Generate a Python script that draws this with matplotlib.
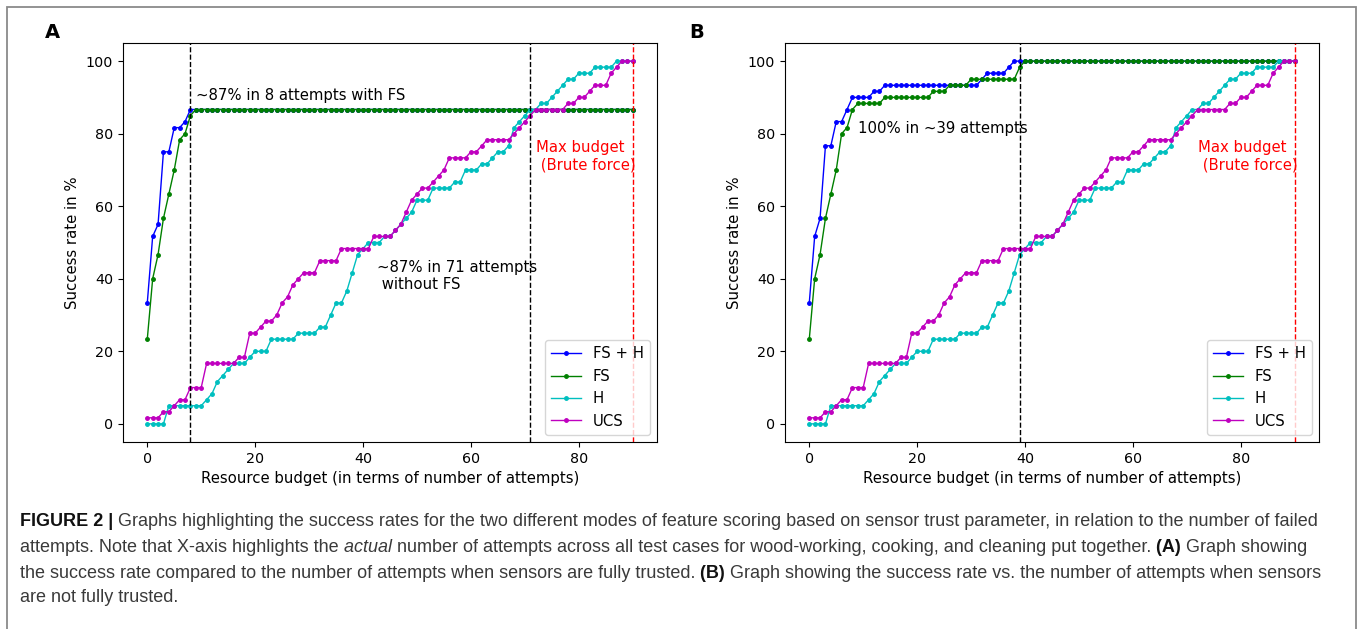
import numpy as np
import matplotlib
matplotlib.use("Agg")
import matplotlib.pyplot as plt
from matplotlib.patches import Rectangle

# number of attempts (x axis)
budget = np.arange(91)
n_cases = 60  # successes are counted out of 60 test cases

# --- panel A: sensors fully trusted (solved cases, out of 60) ---
fs_h_a = [20, 31, 33, 45, 45, 49, 49, 50, 52, 52,
          52, 52, 52, 52, 52, 52, 52, 52, 52, 52,
          52, 52, 52, 52, 52, 52, 52, 52, 52, 52,
          52, 52, 52, 52, 52, 52, 52, 52, 52, 52,
          52, 52, 52, 52, 52, 52, 52, 52, 52, 52,
          52, 52, 52, 52, 52, 52, 52, 52, 52, 52,
          52, 52, 52, 52, 52, 52, 52, 52, 52, 52,
          52, 52, 52, 52, 52, 52, 52, 52, 52, 52,
          52, 52, 52, 52, 52, 52, 52, 52, 52, 52,
          52]
fs_a = [14, 24, 28, 34, 38, 42, 47, 48, 51, 52,
        52, 52, 52, 52, 52, 52, 52, 52, 52, 52,
        52, 52, 52, 52, 52, 52, 52, 52, 52, 52,
        52, 52, 52, 52, 52, 52, 52, 52, 52, 52,
        52, 52, 52, 52, 52, 52, 52, 52, 52, 52,
        52, 52, 52, 52, 52, 52, 52, 52, 52, 52,
        52, 52, 52, 52, 52, 52, 52, 52, 52, 52,
        52, 52, 52, 52, 52, 52, 52, 52, 52, 52,
        52, 52, 52, 52, 52, 52, 52, 52, 52, 52,
        52]

# --- panel B: sensors not fully trusted ---
fs_h_b = [20, 31, 34, 46, 46, 50, 50, 52, 54, 54,
          54, 54, 55, 55, 56, 56, 56, 56, 56, 56,
          56, 56, 56, 56, 56, 56, 56, 56, 56, 56,
          56, 56, 57, 58, 58, 58, 58, 59, 60, 60,
          60, 60, 60, 60, 60, 60, 60, 60, 60, 60,
          60, 60, 60, 60, 60, 60, 60, 60, 60, 60,
          60, 60, 60, 60, 60, 60, 60, 60, 60, 60,
          60, 60, 60, 60, 60, 60, 60, 60, 60, 60,
          60, 60, 60, 60, 60, 60, 60, 60, 60, 60,
          60]
fs_b = [14, 24, 28, 34, 38, 42, 48, 49, 52, 53,
        53, 53, 53, 53, 54, 54, 54, 54, 54, 54,
        54, 54, 54, 55, 55, 55, 56, 56, 56, 56,
        57, 57, 57, 57, 57, 57, 57, 57, 57, 59,
        60, 60, 60, 60, 60, 60, 60, 60, 60, 60,
        60, 60, 60, 60, 60, 60, 60, 60, 60, 60,
        60, 60, 60, 60, 60, 60, 60, 60, 60, 60,
        60, 60, 60, 60, 60, 60, 60, 60, 60, 60,
        60, 60, 60, 60, 60, 60, 60, 60, 60, 60,
        60]

# H and UCS do not depend on sensor trust, same in both panels
h_all = [0, 0, 0, 0, 3, 3, 3, 3, 3, 3,
         3, 4, 5, 7, 8, 9, 10, 10, 10, 11,
         12, 12, 12, 14, 14, 14, 14, 14, 15, 15,
         15, 15, 16, 16, 18, 20, 20, 22, 25, 28,
         29, 30, 30, 30, 31, 31, 32, 33, 34, 35,
         37, 37, 37, 39, 39, 39, 39, 40, 40, 42,
         42, 42, 43, 43, 44, 45, 45, 46, 49, 50,
         51, 52, 52, 53, 53, 54, 55, 56, 57, 57,
         58, 58, 58, 59, 59, 59, 59, 60, 60, 60,
         60]
ucs_all = [1, 1, 1, 2, 2, 3, 4, 4, 6, 6,
           6, 10, 10, 10, 10, 10, 10, 11, 11, 15,
           15, 16, 17, 17, 18, 20, 21, 23, 24, 25,
           25, 25, 27, 27, 27, 27, 29, 29, 29, 29,
           29, 29, 31, 31, 31, 31, 32, 33, 35, 37,
           38, 39, 39, 40, 41, 42, 44, 44, 44, 44,
           45, 45, 46, 47, 47, 47, 47, 47, 48, 49,
           50, 51, 52, 52, 52, 52, 52, 52, 53, 53,
           54, 54, 55, 56, 56, 56, 58, 59, 60, 60,
           60]

series_names = ["FS + H", "FS", "H", "UCS"]
series_colors = ["b", "g", "c", "m"]


def pct(counts):
    return 100.0 * np.array(counts) / n_cases


W, H = 1362, 629
fig = plt.figure(figsize=(W / 100, H / 100), dpi=100)
fs = 10.7  # plot text size
plt.rcParams["font.size"] = fs

axA = fig.add_axes([123 / W, 1 - 442 / H, 534 / W, 399 / H])
axB = fig.add_axes([785 / W, 1 - 442 / H, 534 / W, 399 / H])

panels = [
    (axA, [fs_h_a, fs_a, h_all, ucs_all], [8, 71]),
    (axB, [fs_h_b, fs_b, h_all, ucs_all], [39]),
]
for ax, data, marks in panels:
    for vals, name, col in zip(data, series_names, series_colors):
        ax.plot(budget, pct(vals), color=col, marker=".", markersize=5,
                linewidth=1, label=name)
    for m in marks:
        ax.axvline(m, color="k", linestyle="--", linewidth=1)
    ax.axvline(90, color="r", linestyle="--", linewidth=1)
    ax.set_xticks([0, 20, 40, 60, 80])
    ax.set_yticks([0, 20, 40, 60, 80, 100])
    ax.tick_params(labelsize=10.3)
    ax.set_xlabel("Resource budget (in terms of number of attempts)", fontsize=fs)
    ax.set_ylabel("Success rate in %", fontsize=fs)
    ax.legend(loc="lower right", fontsize=fs)
    ax.text(72, 73.7, "Max budget\n (Brute force)", color="r", fontsize=fs,
            ha="left", va="center")

axA.text(9, 90.5, "~87% in 8 attempts with FS", fontsize=fs, ha="left", va="center")
axA.text(42.5, 40.7, "~87% in 71 attempts\n without FS", fontsize=fs,
         ha="left", va="center")
axB.text(9, 81.3, "100% in ~39 attempts", fontsize=fs, ha="left", va="center")

fig.text(52 / W, 1 - 32 / H, "A", fontsize=14, fontweight="bold", ha="center", va="center")
fig.text(697 / W, 1 - 32 / H, "B", fontsize=14, fontweight="bold", ha="center", va="center")

# outer frame of the figure box
fig.add_artist(Rectangle((7 / W, -0.05), (1356 - 7) / W, 1.05 - 7 / H,
                         transform=fig.transFigure, fill=False,
                         edgecolor="#8a8a8a", linewidth=1.3, clip_on=False))

# caption, drawn run by run so bold/italic pieces sit inline
cap_font = "Liberation Sans"
cap_size = 13.0

caption = [
    [("FIGURE 2 |", "bold", "normal"),
     (" Graphs highlighting the success rates for the two different modes of feature scoring "
      "based on sensor trust parameter, in relation to the number of failed", "normal", "normal")],
    [("attempts. Note that X-axis highlights the", "normal", "normal"),
     (" actual", "normal", "italic"),
     (" number of attempts across all test cases for wood-working, cooking, and cleaning put "
      "together.", "normal", "normal"),
     (" (A)", "bold", "normal"),
     (" Graph showing", "normal", "normal")],
    [("the success rate compared to the number of attempts when sensors are fully trusted.",
      "normal", "normal"),
     (" (B)", "bold", "normal"),
     (" Graph showing the success rate vs. the number of attempts when sensors", "normal", "normal")],
    [("are not fully trusted.", "normal", "normal")],
]
line_y = [521, 547, 573, 598]

renderer = fig.canvas.get_renderer()
for runs, yy in zip(caption, line_y):
    x = 20 / W
    for s, weight, style in runs:
        col = "#111111" if weight == "bold" else "#3a3a3a"
        t = fig.text(x, 1 - yy / H, s, fontsize=cap_size, family=cap_font,
                     fontweight=weight, fontstyle=style, color=col,
                     ha="left", va="center")
        x += t.get_window_extent(renderer).width / fig.bbox.width

fig.savefig("out.png", dpi=100)
